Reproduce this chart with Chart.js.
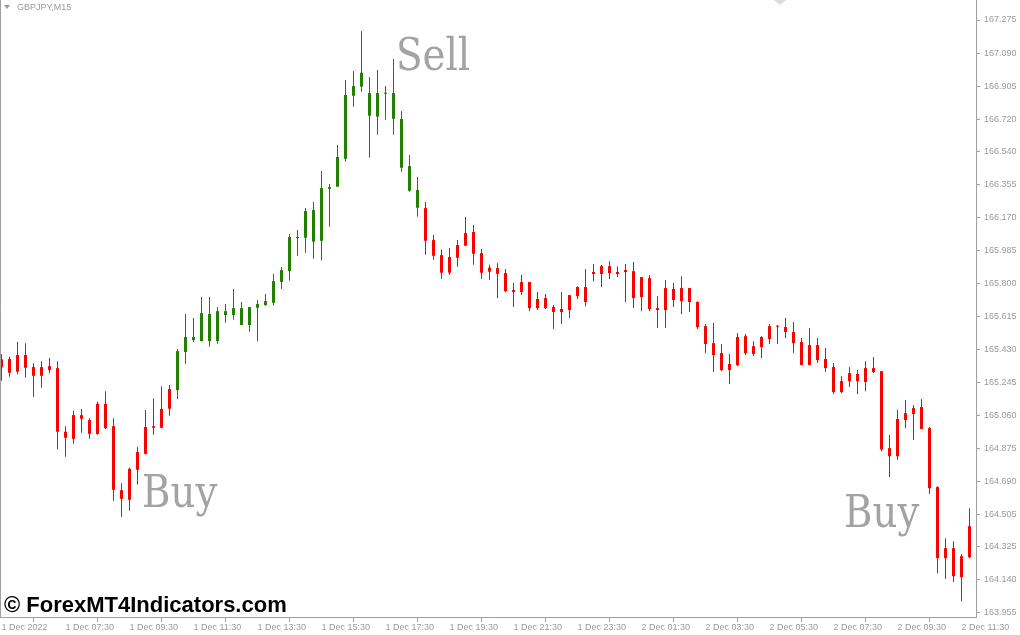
<!DOCTYPE html>
<html>
<head>
<meta charset="utf-8">
<script src="https://cdn.jsdelivr.net/npm/chart.js@4"></script>
<style>
html,body{margin:0;padding:0;background:#ffffff;}
#wrap{position:relative;width:1020px;height:635px;overflow:hidden;background:#ffffff;}
#c{position:absolute;left:0;top:0;}
.note{position:absolute;font-family:'DejaVu Serif',serif;color:#a3a3a3;font-size:44px;line-height:44px;white-space:nowrap;transform-origin:0 0;transform:scaleX(0.88);}
#sym{position:absolute;left:17px;top:3px;font-family:'Liberation Sans',Arial,sans-serif;font-size:9px;line-height:9px;color:#9a9a9a;white-space:nowrap;}
#tri{position:absolute;left:4px;top:5px;width:0;height:0;border-left:3px solid transparent;border-right:3px solid transparent;border-top:4px solid #9a9a9a;}
#shift{position:absolute;left:774px;top:0;width:0;height:0;border-left:6px solid transparent;border-right:6px solid transparent;border-top:5px solid #dcdcdc;}
#wm{position:absolute;left:4px;top:594px;font-family:'Liberation Sans',Arial,sans-serif;font-weight:bold;font-size:22px;line-height:22px;color:#000000;white-space:nowrap;}
</style>
</head>
<body>
<div id="wrap">
  <canvas id="c" width="1020" height="635"></canvas>
  <div id="tri"></div>
  <div id="sym">GBPJPY,M15</div>
  <div id="shift"></div>
  <div class="note" style="left:396px;top:33px;">Sell</div>
  <div class="note" style="left:142px;top:470px;">Buy</div>
  <div class="note" style="left:844px;top:490px;">Buy</div>
  <div id="wm">© ForexMT4Indicators.com</div>
</div>
<script>
// GBPJPY M15 candles, 1 Dec 2022 05:30 onwards (index 0 = 1 Dec 05:30)
const opens = [
165.375,165.377,165.399,165.399,165.332,165.332,165.337,165.326,164.970,165.063,
165.063,165.035,165.126,165.126,165.001,164.643,164.762,164.856,164.996,165.001,
165.097,165.209,165.203,165.416,165.483,165.477,165.477,165.477,165.623,165.623,
165.567,165.567,165.664,165.679,165.692,165.808,165.869,166.054,166.056,166.034,
166.039,166.330,166.342,166.498,166.851,166.902,166.739,166.734,166.862,166.722,
166.448,166.319,166.224,166.222,166.043,165.959,165.948,166.015,166.082,166.088,
165.970,165.888,165.886,165.858,165.763,165.808,165.808,165.713,165.718,165.668,
165.657,165.735,165.780,165.780,165.864,165.897,165.897,165.864,165.875,165.869,
165.836,165.830,165.662,165.774,165.769,165.774,165.774,165.696,165.561,165.466,
165.410,165.349,165.500,165.505,165.449,165.500,165.561,165.563,165.556,165.528,
165.472,165.455,165.455,165.377,165.332,165.253,165.298,165.293,165.326,165.326,
165.309,164.878,165.041,165.074,165.102,165.108,164.990,164.660,164.318,164.318,
164.273,164.441];
const highs = [
165.405,165.390,165.472,165.465,165.353,165.365,165.382,165.365,165.001,165.087,
165.097,165.045,165.138,165.197,165.046,164.682,164.768,164.884,165.091,165.158,
165.225,165.231,165.433,165.629,165.606,165.724,165.724,165.668,165.685,165.769,
165.696,165.668,165.707,165.741,165.853,165.892,166.077,166.099,166.222,166.256,
166.429,166.357,166.575,166.939,166.989,167.213,166.956,166.995,166.905,167.057,
166.765,166.519,166.396,166.256,166.071,165.989,165.998,166.043,166.172,166.127,
165.993,165.905,165.914,165.881,165.802,165.847,165.808,165.752,165.741,165.679,
165.752,165.735,165.785,165.881,165.909,165.903,165.925,165.897,165.909,165.920,
165.836,165.847,165.729,165.819,165.802,165.841,165.774,165.701,165.573,165.578,
165.461,165.405,165.522,165.517,165.477,165.505,165.573,165.567,165.606,165.584,
165.494,165.550,165.494,165.438,165.354,165.281,165.332,165.315,165.365,165.388,
165.309,164.951,165.091,165.147,165.119,165.153,164.996,164.665,164.374,164.357,
164.285,164.542];
const lows = [
165.255,165.278,165.291,165.272,165.166,165.216,165.297,164.871,164.830,164.902,
164.964,164.930,164.953,164.985,164.583,164.494,164.527,164.675,164.843,164.953,
164.990,165.059,165.153,165.350,165.472,165.477,165.446,165.462,165.580,165.597,
165.567,165.530,165.477,165.675,165.675,165.769,165.815,165.955,165.972,165.938,
165.928,166.118,166.342,166.482,166.790,166.874,166.504,166.633,166.717,166.633,
166.426,166.314,166.174,165.961,165.933,165.826,165.849,165.894,166.011,165.905,
165.826,165.821,165.718,165.752,165.668,165.735,165.645,165.651,165.657,165.545,
165.573,165.606,165.713,165.673,165.813,165.780,165.825,165.836,165.696,165.662,
165.645,165.645,165.550,165.550,165.668,165.629,165.640,165.545,165.410,165.304,
165.309,165.237,165.337,165.399,165.393,165.382,165.461,165.461,165.494,165.410,
165.343,165.343,165.354,165.304,165.181,165.186,165.220,165.181,165.197,165.298,
164.861,164.716,164.811,164.990,164.923,164.985,164.621,164.178,164.145,164.128,
164.021,164.262];
const closes = [
165.330,165.300,165.306,165.328,165.283,165.283,165.315,164.970,164.936,164.930,
165.042,164.958,164.957,164.990,164.645,164.594,164.589,164.757,164.846,164.992,
164.992,165.099,165.421,165.500,165.500,165.634,165.629,165.645,165.645,165.662,
165.662,165.668,165.685,165.701,165.813,165.875,166.060,166.060,166.205,166.211,
166.334,166.340,166.508,166.855,166.905,166.980,166.866,166.866,166.868,166.866,
166.721,166.457,166.323,166.039,165.955,165.860,165.860,165.944,166.011,165.966,
165.860,165.866,165.854,165.757,165.752,165.752,165.662,165.662,165.662,165.640,
165.640,165.651,165.729,165.696,165.853,165.853,165.858,165.853,165.864,165.718,
165.724,165.657,165.651,165.651,165.707,165.701,165.696,165.556,165.461,165.399,
165.315,165.315,165.343,165.410,165.405,165.444,165.489,165.558,165.528,165.466,
165.343,165.343,165.371,165.326,165.192,165.192,165.253,165.253,165.248,165.304,
164.871,164.833,164.833,165.035,165.069,164.985,164.654,164.262,164.262,164.161,
164.156,164.268];

// indicator colouring: candle index where the trend colour changes
const trendBreaks = [22, 53];
const trendDirs = ['down', 'up', 'down'];

const xTickLabels = ['1 Dec 2022','1 Dec 07:30','1 Dec 09:30','1 Dec 11:30','1 Dec 13:30','1 Dec 15:30',
  '1 Dec 17:30','1 Dec 19:30','1 Dec 21:30','1 Dec 23:30','2 Dec 01:30','2 Dec 03:30','2 Dec 05:30',
  '2 Dec 07:30','2 Dec 09:30','2 Dec 11:30'];
const candlesPerXTick = 8;
const yTickLabels = ['167.275','167.090','166.905','166.720','166.540','166.355','166.170','165.985',
  '165.800','165.615','165.430','165.245','165.060','164.875','164.690','164.505','164.325','164.140','163.955'];
const yMin = 163.9326, yMax = 167.387;

const RED = '#ff0000', GREEN = '#218000', AXIS = '#a0a0a0', TXT = '#9a9a9a';

const idx = opens.map((_, i) => i);
function dirOf(i) { let k = 0; while (k < trendBreaks.length && i >= trendBreaks[k]) k++; return trendDirs[k]; }
const colours = idx.map(i => dirOf(i) === 'up' ? GREEN : RED);

const leftBorder = {
  id: 'leftBorder',
  afterDraw(chart) {
    const {ctx, chartArea} = chart;
    ctx.save();
    ctx.strokeStyle = AXIS; ctx.lineWidth = 1;
    ctx.beginPath(); ctx.moveTo(0.5, 0); ctx.lineTo(0.5, chartArea.bottom); ctx.stroke();
    ctx.restore();
  }
};

new Chart(document.getElementById('c'), {
  type: 'bar',
  data: {
    datasets: [
      { label: 'wick', data: idx.map(i => ({x: i, y: [lows[i], highs[i]]})),
        backgroundColor: colours, barThickness: 1, grouped: false, inflateAmount: 0, borderWidth: 0, order: 2 },
      { label: 'body', data: idx.map(i => ({x: i, y: [opens[i], closes[i]]})),
        backgroundColor: colours, barThickness: 3, grouped: false, inflateAmount: 0, minBarLength: 1, borderWidth: 0, order: 1 }
    ]
  },
  options: {
    responsive: false, animation: false, devicePixelRatio: 1,
    layout: { padding: 0 },
    plugins: { legend: { display: false }, tooltip: { enabled: false } },
    scales: {
      x: {
        type: 'linear', min: -0.1875, max: 121.8125, offset: false,
        grid: { display: true, drawOnChartArea: false, drawTicks: true, tickLength: 5, color: AXIS, tickColor: AXIS },
        border: { display: true, color: AXIS },
        ticks: { autoSkip: false, maxRotation: 0, minRotation: 0, align: 'start', padding: 0, color: TXT,
                 font: { family: 'Liberation Sans', size: 9 },
                 callback: v => xTickLabels[Math.round(v / candlesPerXTick)] },
        afterBuildTicks: s => { s.ticks = xTickLabels.map((_, k) => ({ value: k * candlesPerXTick })); },
        afterFit: s => { s.height = 18; s.paddingLeft = 0; s.paddingRight = 0; }
      },
      y: {
        position: 'right', min: yMin, max: yMax,
        grid: { display: true, drawOnChartArea: false, drawTicks: true, tickLength: 4, color: AXIS, tickColor: AXIS },
        border: { display: true, color: AXIS },
        ticks: { autoSkip: false, padding: 4, color: TXT, font: { family: 'Liberation Sans', size: 9 },
                 callback: v => v.toFixed(3) },
        afterBuildTicks: s => { s.ticks = yTickLabels.map(t => ({ value: parseFloat(t) })); },
        afterFit: s => { s.width = 44; s.paddingTop = 0; s.paddingBottom = 0; }
      }
    }
  },
  plugins: [leftBorder]
});
</script>
</body>
</html>
